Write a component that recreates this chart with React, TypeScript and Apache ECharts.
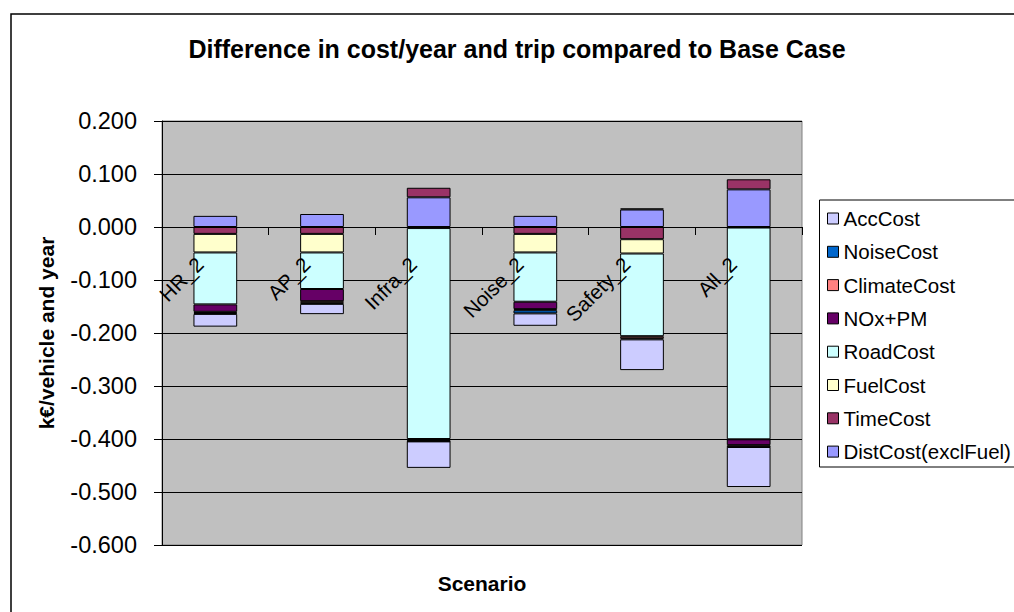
import React, { useEffect, useRef } from "react";
import * as echarts from "echarts";

const categories = ["HR_2", "AP_2", "Infra_2", "Noise_2", "Safety_2", "All_2"];
const distCost = [0.021, 0.0245, 0.056, 0.021, 0.033, 0.071];
const timeCost = [-0.013, -0.013, 0.018, -0.013, -0.023, 0.019];
const fuelCost = [-0.035, -0.035, -0.002, -0.035, -0.027, -0.001];
const roadCost = [-0.098, -0.069, -0.398, -0.093, -0.156, -0.3996];
const noxPm = [-0.014, -0.023, -0.002, -0.014, 0.002, -0.011];
const climateCost = [-0.002, -0.003, -0.002, -0.002, -0.004, -0.003];
const noiseCost = [-0.002, -0.002, -0.0005, -0.006, -0.002, -0.0005];
const accCost = [-0.024, -0.0194, -0.05, -0.0234, -0.058, -0.0755];

const seriesNames = [
  "DistCost(exclFuel)",
  "TimeCost",
  "FuelCost",
  "RoadCost",
  "NOx+PM",
  "ClimateCost",
  "NoiseCost",
  "AccCost",
];
const seriesColors = ["#9999FF", "#993366", "#FFFFCC", "#CCFFFF", "#660066", "#FF8080", "#0066CC", "#CCCCFF"];
const seriesData = [distCost, timeCost, fuelCost, roadCost, noxPm, climateCost, noiseCost, accCost];
const legendOrder = [...seriesNames].reverse();

const FONT = "'Liberation Sans', Arial, sans-serif";

const GRID_TOP = 121;
const GRID_BOTTOM_Y = 545;
const Y_MIN = -0.6;
const Y_MAX = 0.2;

export default function App() {
  const ref = useRef<HTMLDivElement>(null);
  useEffect(() => {
    if (!ref.current) return;
    const chart = echarts.init(ref.current, null, { renderer: "svg" });
    const zeroY = GRID_TOP + ((Y_MAX - 0) / (Y_MAX - Y_MIN)) * (GRID_BOTTOM_Y - GRID_TOP);
    chart.setOption({
      animation: false,
      backgroundColor: "#ffffff",
      grid: {
        left: 162,
        right: 212,
        top: GRID_TOP,
        bottom: 612 - GRID_BOTTOM_Y,
        show: true,
        backgroundColor: "#C0C0C0",
        borderColor: "#808080",
        borderWidth: 1,
        containLabel: false,
        outerBoundsMode: "none",
      },
      legend: {
        data: legendOrder,
        orient: "vertical",
        left: 827,
        top: 207.5,
        padding: 0,
        itemWidth: 11,
        itemHeight: 11,
        itemGap: 11.3,
        icon: "rect",
        itemStyle: { borderColor: "#000", borderWidth: 1 },
        textStyle: { fontFamily: FONT, fontSize: 20.5, color: "#000", lineHeight: 22 },
      },
      xAxis: {
        type: "category",
        data: categories,
        z: 10,
        offset: -(GRID_BOTTOM_Y - zeroY),
        axisLine: { onZero: false, lineStyle: { color: "#000", width: 1 } },
        axisTick: { show: true, alignWithLabel: false, length: 8, lineStyle: { color: "#000" } },
        axisLabel: {
          interval: 0,
          rotate: 45,
          fontFamily: FONT,
          fontSize: 20.5,
          color: "#000",
          margin: 18,
          padding: [0, 22, 0, 0],
        },
        splitLine: { show: false },
      },
      yAxis: {
        type: "value",
        min: Y_MIN,
        max: Y_MAX,
        interval: 0.1,
        axisLine: { show: true, lineStyle: { color: "#000", width: 1 } },
        axisTick: { show: true, length: 8, lineStyle: { color: "#000" } },
        axisLabel: {
          fontFamily: FONT,
          fontSize: 23.5,
          color: "#000",
          margin: 25,
          formatter: (v: number) => (Math.abs(v) < 1e-9 ? "0.000" : v.toFixed(3)),
        },
        splitLine: { show: true, lineStyle: { color: "#000", width: 1 } },
      },
      series: seriesNames.map((name, i) => ({
        name,
        type: "bar",
        stack: "total",
        barWidth: "41%",
        data: seriesData[i],
        itemStyle: { color: seriesColors[i], borderColor: "#000", borderWidth: 1 },
      })),
      graphic: [
        {
          type: "rect",
          shape: { x: 11, y: 14, width: 1100, height: 700 },
          style: { fill: "none", stroke: "#000", lineWidth: 1.5 },
          silent: true,
        },
        {
          type: "rect",
          shape: { x: 819.5, y: 200, width: 300, height: 267 },
          style: { fill: "#fff", stroke: "#000", lineWidth: 1 },
          silent: true,
          z: -1,
        },
        {
          type: "text",
          x: 517,
          y: 49,
          style: {
            text: "Difference in cost/year and trip compared to Base Case",
            fontFamily: FONT,
            fontSize: 25,
            fontWeight: "bold",
            fill: "#000",
            align: "center",
            verticalAlign: "middle",
          },
        },
        {
          type: "text",
          x: 482,
          y: 583,
          style: {
            text: "Scenario",
            fontFamily: FONT,
            fontSize: 21,
            fontWeight: "bold",
            fill: "#000",
            align: "center",
            verticalAlign: "middle",
          },
        },
        {
          type: "text",
          x: 46,
          y: 333,
          rotation: Math.PI / 2,
          style: {
            text: "k€/vehicle and year",
            fontFamily: FONT,
            fontSize: 21,
            fontWeight: "bold",
            fill: "#000",
            align: "center",
            verticalAlign: "middle",
          },
        },
      ],
    });
    return () => chart.dispose();
  }, []);
  return (
    <div
      ref={ref}
      style={{ position: "absolute", left: 0, top: 0, width: 1014, height: 612 }}
    />
  );
}
